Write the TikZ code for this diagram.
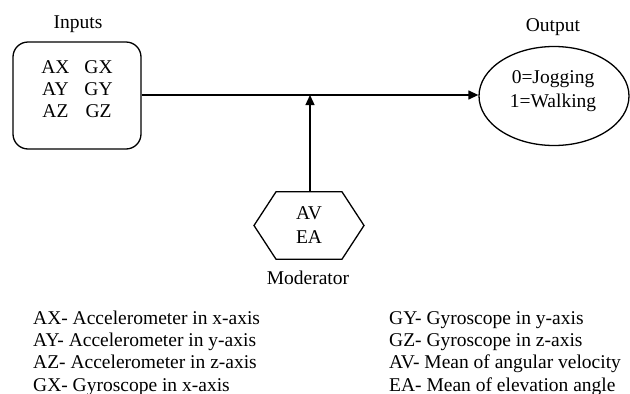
\documentclass[tikz,border=0pt]{standalone}
\usepackage{fontspec}
\setmainfont{Liberation Serif}
\usetikzlibrary{arrows.meta,shapes.geometric}
\begin{document}
\begin{tikzpicture}[x=1pt,y=-1pt,
  every node/.style={font=\fontsize{19.5}{22}\selectfont, inner sep=0pt},
  box/.style={draw, line width=1.3pt, rounded corners=15pt, minimum width=128pt, minimum height=107pt},
  outbox/.style={draw, ellipse, line width=1.3pt, minimum width=150pt, minimum height=99pt},
  hexnode/.style={minimum width=110pt, minimum height=67pt},
  lbl/.style={anchor=center},
  legend/.style={anchor=base west, align=left},
  conn/.style={line width=1.3pt, -{Triangle[length=10pt,width=9pt]}}
]
\useasboundingbox (0,0) rectangle (630,394);

\node[box] (inputs) at (77,95.5) {};
\node[lbl] (inputstext) at (77,91) {\begin{tabular}{@{}c@{\hspace{15pt}}c@{}}AX & GX\\ AY & GY\\ AZ & GZ\end{tabular}};
\node[lbl] (inputslbl) at (78,24) {Inputs};

\node[outbox] (out) at (554,96) {};
\node[lbl, align=center] (outtext) at (553,91) {0=Jogging\\[2pt]1=Walking};
\node[lbl] (outlbl) at (553,27) {Output};

\node[hexnode] (hex) at (310,225.5) {};
\draw[line width=1.3pt] ([xshift=-56pt]hex.center) -- ([xshift=-34pt]hex.north) -- ([xshift=32pt]hex.north) -- ([xshift=54pt]hex.center) -- ([xshift=32pt]hex.south) -- ([xshift=-34pt]hex.south) -- cycle;
\node[lbl, align=center] (hextext) at (309,225) {AV\\[2pt]EA};
\node[lbl] (modlbl) at (308,278) {Moderator};

\coordinate (junc) at (310,95);
\draw[conn] (inputs.east |- 0,95) -- (out.west |- 0,95);
\draw[conn] (hex.north) -- (junc);

\node[legend] (l1) at (33,324) {AX- Accelerometer in x-axis};
\node[legend] (l2) at (33,346) {AY- Accelerometer in y-axis};
\node[legend] (l3) at (33,368.5) {AZ- Accelerometer in z-axis};
\node[legend] (l4) at (33,391) {GX- Gyroscope in x-axis};
\node[legend] (r1) at (389,324) {GY- Gyroscope in y-axis};
\node[legend] (r2) at (389,346) {GZ- Gyroscope in z-axis};
\node[legend] (r3) at (389,368.5) {AV- Mean of angular velocity};
\node[legend] (r4) at (389,391) {EA- Mean of elevation angle};
\end{tikzpicture}
\end{document}
